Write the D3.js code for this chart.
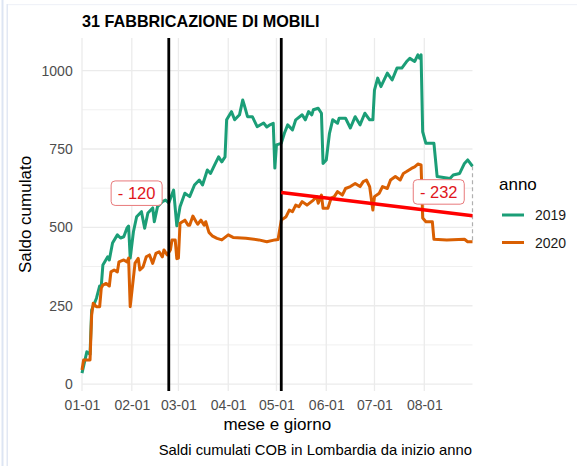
<!DOCTYPE html>
<html><head><meta charset="utf-8">
<script src="https://cdn.jsdelivr.net/npm/d3@7"></script>
<style>html,body{margin:0;padding:0;background:#fff;} svg{display:block;font-family:"Liberation Sans",Arial,sans-serif;}</style>
</head><body><svg id="c" width="577" height="466"></svg>
<script>
const chartTitle = "31 FABBRICAZIONE DI MOBILI";
const caption = "Saldi cumulati COB in Lombardia da inizio anno";
const xTitle = "mese e giorno";
const yTitle = "Saldo cumulato";
const legendTitle = "anno";
const seriesNames = ["2019", "2020"];
const seriesColors = ["#1b9e77", "#d95f02"];

const dates2019 = ["01-01","01-04","01-06","01-07","01-10","01-12","01-13","01-14","01-17","01-18","01-20","01-23","01-25","01-27","01-29","01-30","01-31","02-02","02-04","02-07","02-09","02-11","02-14","02-15","02-17","02-20","02-22","02-24","02-27","02-29","03-02","03-05","03-08","03-11","03-14","03-16","03-19","03-21","03-24","03-26","03-28","03-30","03-31","04-03","04-05","04-08","04-10","04-11","04-13","04-16","04-19","04-23","04-25","04-27","04-29","04-30","05-01","05-04","05-06","05-08","05-11","05-13","05-17","05-19","05-21","05-23","05-24","05-27","05-29","05-30","06-01","06-03","06-05","06-08","06-09","06-13","06-16","06-19","06-22","06-25","06-28","06-30","07-01","07-03","07-05","07-09","07-12","07-15","07-18","07-21","07-23","07-26","07-28","07-29","07-30","07-31","08-02","08-07","08-09","08-17","08-19","08-23","08-26","08-28","08-31"];
const values2019 = [35,103,95,236,274,313,313,380,406,396,450,476,466,470,498,504,402,486,534,550,497,546,562,518,566,582,587,578,619,505,566,609,598,635,651,635,683,672,704,725,709,725,843,869,843,859,906,890,853,853,821,833,820,827,832,689,763,768,801,827,811,843,859,843,869,859,875,880,864,704,715,800,843,832,848,848,817,853,827,864,843,843,938,976,949,992,970,1008,1008,1029,1039,1029,1050,1040,1050,805,768,768,662,656,667,672,704,715,695];

const dates2020 = ["01-01","01-02","01-06","01-07","01-08","01-10","01-12","01-13","01-14","01-16","01-18","01-19","01-21","01-23","01-24","01-27","01-29","01-30","01-31","02-03","02-05","02-06","02-08","02-10","02-12","02-14","02-16","02-18","02-20","02-21","02-23","02-25","02-26","02-28","02-29","03-01","03-02","03-05","03-07","03-08","03-10","03-12","03-13","03-15","03-17","03-18","03-20","03-22","03-25","03-28","04-01","04-04","04-12","04-20","04-25","04-30","05-02","05-04","05-07","05-09","05-11","05-13","05-15","05-17","05-20","05-24","05-26","05-27","05-29","05-30","06-02","06-04","06-06","06-08","06-11","06-13","06-16","06-19","06-22","06-24","06-26","06-28","06-30","07-01","07-04","07-06","07-09","07-11","07-14","07-17","07-19","07-21","07-24","07-26","07-28","07-30","07-31","08-02","08-06","08-07","08-15","08-26","08-28","08-31"];
const values2020 = [45,77,77,220,258,247,247,306,316,321,313,358,364,358,390,396,390,402,247,386,401,364,374,406,412,385,417,422,406,428,412,428,460,460,400,402,513,523,507,507,536,518,510,523,507,518,484,473,465,460,476,468,465,460,454,460,461,523,534,555,550,571,566,582,571,587,598,577,603,561,561,593,598,614,603,624,630,640,630,646,651,630,555,598,609,630,624,651,662,651,672,678,688,693,702,699,530,518,518,462,460,462,454,454];

const monthTicks = ["01-01","02-01","03-01","04-01","05-01","06-01","07-01","08-01"];
const yTicks = [0, 250, 500, 750, 1000];
const yMinorTicks = [125, 375, 625, 875];
const eventDates = ["02-24", "05-04"];
const trendDates = ["05-04", "08-31"];
const trendValues = [611, 537];
const gapDates = ["02-24", "08-31"];
const gapFrom = [578, 695];
const gapTo = [458, 454];
const labelTexts = ["- 120", "- 232"];
const labelDates = ["02-04", "08-10"];
const labelValues = [609, 613];
const xDomain = ["01-01", "08-31"];
const yDomain = [-22, 1104];

const parse = s => d3.utcParse("%Y-%m-%d")("2020-" + s);
const svg = d3.select("#c");

// faint screenshot frame
svg.append("rect").attr("x",1.5).attr("y",0).attr("width",2).attr("height",466).attr("fill","#dde5f3");
svg.append("rect").attr("x",6.5).attr("y",4).attr("width",1.5).attr("height",462).attr("fill","#e2e8f4");
svg.append("rect").attr("x",8).attr("y",4).attr("width",569).attr("height",1.2).attr("fill","#f0f2f8");

const L = 82, R = 472.5, T = 38, B = 391;
const x = d3.scaleUtc().domain(xDomain.map(parse)).range([L, R]);
const y = d3.scaleLinear().domain(yDomain).range([B, T]);

const grid = svg.append("g");
yMinorTicks.forEach(v => grid.append("line").attr("x1",L).attr("x2",R).attr("y1",y(v)).attr("y2",y(v)).attr("stroke","#f0f0f0").attr("stroke-width",1));
yTicks.forEach(v => grid.append("line").attr("x1",L).attr("x2",R).attr("y1",y(v)).attr("y2",y(v)).attr("stroke","#ebebeb").attr("stroke-width",1.3));
monthTicks.forEach(m => grid.append("line").attr("x1",x(parse(m))).attr("x2",x(parse(m))).attr("y1",T).attr("y2",B).attr("stroke","#ebebeb").attr("stroke-width",1.3));

// axes
const xAxis = d3.axisBottom(x).tickValues(monthTicks.map(parse)).tickFormat(d3.utcFormat("%m-%d")).tickSize(0).tickPadding(9.5);
const gx = svg.append("g").attr("transform",`translate(0,${B})`).call(xAxis);
const yAxis = d3.axisLeft(y).tickValues(yTicks).tickFormat(d3.format("d")).tickSize(0).tickPadding(9.3);
const gy = svg.append("g").attr("transform",`translate(${L},0)`).call(yAxis);
[gx, gy].forEach(g => {
  g.select(".domain").remove();
  g.selectAll("text").attr("fill","#4d4d4d").style("font-size","14px").style("font-family","'Liberation Sans',Arial,sans-serif");
});

// gap segments
gapDates.forEach((d,i) => svg.append("line").attr("x1",x(parse(d))).attr("x2",x(parse(d)))
  .attr("y1",y(gapFrom[i])).attr("y2",y(gapTo[i])).attr("stroke","#b0b0b0").attr("stroke-width",1.2).attr("stroke-dasharray","4,3"));

// series
const line = d3.line().x(d => x(d[0])).y(d => y(d[1]));
const series = [
  d3.zip(dates2019.map(parse), values2019),
  d3.zip(dates2020.map(parse), values2020)
];
series.forEach((s,i) => svg.append("path").datum(s).attr("d",line).attr("fill","none")
  .attr("stroke",seriesColors[i]).attr("stroke-width",3).attr("stroke-linejoin","round").attr("stroke-linecap","butt"));

// event lines
eventDates.forEach(d => svg.append("line").attr("x1",x(parse(d))).attr("x2",x(parse(d)))
  .attr("y1",T).attr("y2",B).attr("stroke","#000").attr("stroke-width",2.8));

// trend line
svg.append("path").datum(d3.zip(trendDates.map(parse), trendValues)).attr("d",line)
  .attr("fill","none").attr("stroke","#ff0000").attr("stroke-width",3.6);

// labels
labelTexts.forEach((t,i) => {
  const cx = x(parse(labelDates[i])), cy = y(labelValues[i]);
  const g = svg.append("g");
  const w = 51, h = 24.5;
  g.append("rect").attr("x",cx-w/2).attr("y",cy-h/2).attr("width",w).attr("height",h).attr("rx",4)
    .attr("fill","#fff").attr("stroke","#e8797b").attr("stroke-width",1);
  g.append("text").attr("x",cx).attr("y",cy).attr("dy","0.36em").attr("text-anchor","middle")
    .attr("fill","#e0161c").style("font-size","16.5px").text(t);
});

// titles
svg.append("text").attr("x",82).attr("y",26.5).style("font-size","16.2px").style("font-weight","bold").attr("fill","#000").text(chartTitle);
svg.append("text").attr("transform",`translate(31,${(T+B)/2}) rotate(-90)`).attr("text-anchor","middle").style("font-size","17px").attr("fill","#000").text(yTitle);
svg.append("text").attr("x",(L+R)/2).attr("y",430).attr("text-anchor","middle").style("font-size","17px").attr("fill","#000").text(xTitle);
svg.append("text").attr("x",472).attr("y",455).attr("text-anchor","end").style("font-size","14.8px").attr("fill","#000").text(caption);

// legend
svg.append("text").attr("x",499).attr("y",190).style("font-size","17px").attr("fill","#000").text(legendTitle);
seriesNames.forEach((n,i) => {
  const ly = 215 + i*27.5;
  svg.append("line").attr("x1",502).attr("x2",524).attr("y1",ly).attr("y2",ly).attr("stroke",seriesColors[i]).attr("stroke-width",3);
  svg.append("text").attr("x",535).attr("y",ly).attr("dy","0.36em").style("font-size","14px").attr("fill","#1a1a1a").text(n);
});
</script></body></html>
